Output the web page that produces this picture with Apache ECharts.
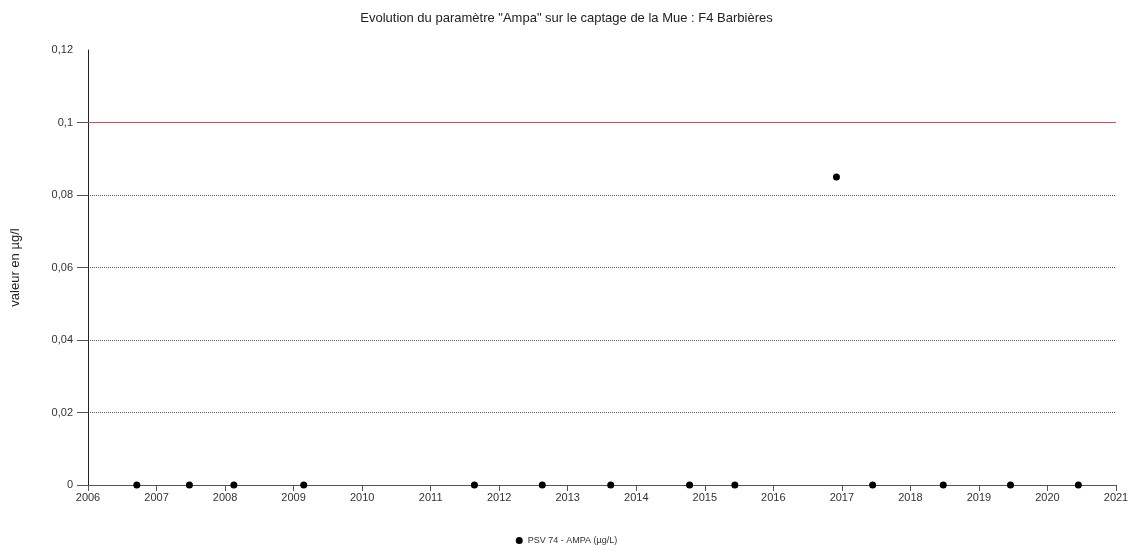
<!DOCTYPE html>
<html>
<head>
<meta charset="utf-8">
<title>Evolution du paramètre "Ampa"</title>
<script src="https://cdn.jsdelivr.net/npm/echarts@6/dist/echarts.min.js"></script>
<style>
  html, body { margin: 0; padding: 0; background: #fff; }
  #chart { width: 1133px; height: 550px; }
</style>
</head>
<body>
<div id="chart"></div>
<script>
// Sampling dates and measured AMPA concentrations (µg/L)
const sampleDates = [
  '2006-09-18', '2007-06-25', '2008-02-17', '2009-02-24',
  '2011-08-22', '2012-08-18', '2013-08-18', '2014-10-12',
  '2015-06-10', '2016-12-03', '2017-06-14', '2018-06-25',
  '2019-06-18', '2020-06-14'
];
const ampaValues = [
  0, 0, 0, 0,
  0, 0, 0, 0,
  0, 0.085, 0, 0,
  0, 0
];
const yearTicks = [2006, 2007, 2008, 2009, 2010, 2011, 2012, 2013, 2014, 2015, 2016, 2017, 2018, 2019, 2020, 2021];
const yTickValues = [0, 0.02, 0.04, 0.06, 0.08, 0.1, 0.12];
const limitValue = 0.1;
const seriesName = 'PSV 74 - AMPA (µg/L)';

// Convert a date string into a fractional year for the linear x scale
function toYear(s) {
  const d = new Date(s + 'T00:00:00Z');
  const y = d.getUTCFullYear();
  const start = Date.UTC(y, 0, 1);
  const end = Date.UTC(y + 1, 0, 1);
  return y + (d.getTime() - start) / (end - start);
}

const points = sampleDates.map((s, i) => [toYear(s), ampaValues[i]]);
const fmt = v => String(v).replace('.', ',');
const FONT = '"Liberation Sans", Arial, sans-serif';

const chart = echarts.init(document.getElementById('chart'));
chart.setOption({
  backgroundColor: '#ffffff',
  animation: false,
  textStyle: { fontFamily: FONT },
  title: {
    text: 'Evolution du paramètre "Ampa" sur le captage de la Mue : F4 Barbières',
    left: 'center',
    top: 7,
    textStyle: { fontFamily: FONT, fontSize: 13, fontWeight: 'normal', color: '#222' }
  },
  legend: {
    bottom: 0,
    left: 'center',
    itemWidth: 7,
    itemHeight: 7,
    itemGap: 10,
    icon: 'circle',
    textStyle: { fontFamily: FONT, fontSize: 9, color: '#333' },
    data: [seriesName]
  },
  grid: {
    left: 88, right: 17, top: 50, bottom: 65,
    containLabel: false,
    outerBoundsMode: 'none'
  },
  xAxis: {
    type: 'value',
    min: 2006,
    max: 2021,
    interval: 1,
    splitLine: { show: false },
    axisLine: { show: true, onZero: false, lineStyle: { color: '#555', width: 1 } },
    axisTick: { show: true, length: 6, inside: false, lineStyle: { color: '#555' } },
    axisLabel: {
      fontFamily: FONT, fontSize: 11, color: '#333', margin: 7,
      customValues: yearTicks,
      formatter: v => String(Math.round(v))
    }
  },
  yAxis: {
    type: 'value',
    min: 0,
    max: 0.12,
    interval: 0.02,
    name: 'valeur en µg/l',
    nameLocation: 'middle',
    nameGap: 66,
    nameRotate: 90,
    nameTextStyle: { fontFamily: FONT, fontSize: 13, color: '#222' },
    axisLine: { show: true, lineStyle: { color: '#222', width: 1 } },
    axisTick: {
      show: true, length: 11, lineStyle: { color: '#555' },
      customValues: yTickValues.slice(0, yTickValues.length - 1)
    },
    axisLabel: {
      fontFamily: FONT, fontSize: 11, color: '#333', margin: 15,
      customValues: yTickValues,
      formatter: v => fmt(Math.round(v * 100) / 100)
    },
    splitLine: {
      show: true,
      lineStyle: { color: '#555', type: [1, 1], width: 1 }
    }
  },
  series: [{
    name: seriesName,
    type: 'scatter',
    symbol: 'circle',
    symbolSize: 7,
    itemStyle: { color: '#000', opacity: 1 },
    data: points,
    z: 5,
    markLine: {
      silent: true,
      symbol: 'none',
      label: { show: false },
      lineStyle: { color: '#e04a4a', type: 'solid', width: 1.2 },
      data: [{ yAxis: limitValue }]
    }
  }]
});
</script>
</body>
</html>
